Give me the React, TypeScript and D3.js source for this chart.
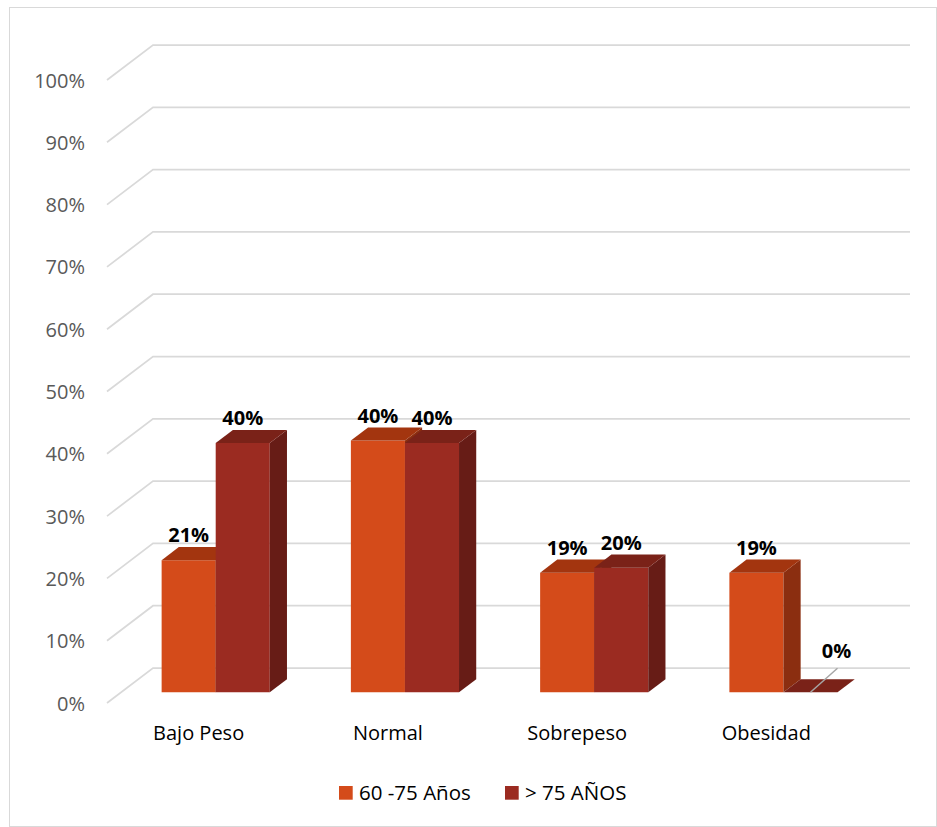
import React from "react";
import * as d3 from "d3";

const categories = ["Bajo Peso", "Normal", "Sobrepeso", "Obesidad"];
const seriesNames = ["60 -75 Años", "> 75 AÑOS"];
const series1 = [0.212, 0.404, 0.192, 0.192];
const series2 = [0.40, 0.40, 0.20, 0.0];
const yTicks = [0, 0.1, 0.2, 0.3, 0.4, 0.5, 0.6, 0.7, 0.8, 0.9, 1.0];

const W = 937;
const H = 827;
const X0 = 107; // front-left of floor
const Y0 = 703; // front 0% line
const DX = 46; // full floor depth (x)
const DY = 35; // full floor depth (y)
const PLOT_W = 757;
const PLOT_H = 623;
const Z_FRONT = 0.306;
const Z_BACK = 0.68;

const FRONT = ["#D44B1A", "#9B2B21"];
const TOP = ["#A3350F", "#7A2218"];
const SIDE = ["#8B2E10", "#671C16"];

const FONT = "'Open Sans', 'Noto Sans', sans-serif";

export default function App() {
  const x = d3.scaleBand<string>().domain(categories).range([0, PLOT_W]).padding(0);
  const y = d3.scaleLinear().domain([0, 1]).range([0, PLOT_H]);
  const bw = x.bandwidth();
  const barW = bw / 3.5;
  const inner = d3.scaleBand<number>().domain([0, 1]).range([0, barW * 2]).padding(0);

  const px = (xx: number, z: number) => X0 + xx + z * DX;
  const py = (v: number, z: number) => Y0 - y(v) - z * DY;

  const grid = yTicks.map((t) =>
    `M${px(0, 0)},${py(t, 0)}L${px(0, 1)},${py(t, 1)}L${px(PLOT_W, 1)},${py(t, 1)}`
  );

  const data = [series1, series2];
  const bars: any[] = [];
  categories.forEach((c, ci) => {
    [0, 1].forEach((si) => {
      const v = data[si][ci];
      const x1 = (x(c) as number) + (bw - barW * 2) / 2 + (inner(si) as number);
      const x2 = x1 + barW;
      const front = `M${px(x1, Z_FRONT)},${py(0, Z_FRONT)}L${px(x2, Z_FRONT)},${py(0, Z_FRONT)}L${px(x2, Z_FRONT)},${py(v, Z_FRONT)}L${px(x1, Z_FRONT)},${py(v, Z_FRONT)}Z`;
      const top = `M${px(x1, Z_FRONT)},${py(v, Z_FRONT)}L${px(x2, Z_FRONT)},${py(v, Z_FRONT)}L${px(x2, Z_BACK)},${py(v, Z_BACK)}L${px(x1, Z_BACK)},${py(v, Z_BACK)}Z`;
      const side = `M${px(x2, Z_FRONT)},${py(0, Z_FRONT)}L${px(x2, Z_BACK)},${py(0, Z_BACK)}L${px(x2, Z_BACK)},${py(v, Z_BACK)}L${px(x2, Z_FRONT)},${py(v, Z_FRONT)}Z`;
      const cx = px((x1 + x2) / 2, Z_FRONT);
      bars.push({ key: `${ci}-${si}`, si, v, front, top, side, cx, ly: py(v, Z_BACK) - 5, fy: py(v, Z_FRONT) });
    });
  });

  return (
    <svg width={W} height={H} style={{ position: "absolute", left: 0, top: 0, background: "#fff" }} fontFamily={FONT}>
      <rect x={9.5} y={7.5} width={927} height={819} fill="#fff" stroke="#d9d9d9" strokeWidth={1} />
      {grid.map((d, i) => (
        <path key={i} d={d} fill="none" stroke="#d9d9d9" strokeWidth={1.75} />
      ))}
      {yTicks.map((t) => (
        <text key={t} x={85} y={py(t, 0) + 7.5} textAnchor="end" fontSize={20} fill="#595959">
          {d3.format(".0%")(t)}
        </text>
      ))}
      {bars.map((b) => (
        <g key={b.key}>
          <path d={b.front} fill={FRONT[b.si]} />
          <path d={b.side} fill={SIDE[b.si]} />
          <path d={b.top} fill={TOP[b.si]} />
        </g>
      ))}
      {bars.map((b) => {
        const zero = b.v === 0;
        const lx = zero ? b.cx + 26 : b.cx;
        const ly = zero ? b.ly - 16 : b.ly;
        return (
          <g key={"l" + b.key}>
            {zero && (
              <line x1={b.cx} y1={b.fy} x2={b.cx + 27} y2={b.fy - 24} stroke="#a6a6a6" strokeWidth={1.5} />
            )}
            <text x={lx} y={ly} textAnchor="middle" fontSize={20} fontWeight="bold" fill="#000">
              {d3.format(".0%")(b.v)}
            </text>
          </g>
        );
      })}
      {categories.map((c) => (
        <text key={c} x={px((x(c) as number) + bw / 2, 0) - 3} y={740} textAnchor="middle" fontSize={20} fill="#000">
          {c}
        </text>
      ))}
      {seriesNames.map((s, i) => {
        const lx = [339, 505][i];
        return (
          <g key={s}>
            <rect x={lx} y={786} width={13.7} height={13.7} fill={FRONT[i]} />
            <text x={lx + 20} y={800} fontSize={20.5} fill="#000">{s}</text>
          </g>
        );
      })}
    </svg>
  );
}
